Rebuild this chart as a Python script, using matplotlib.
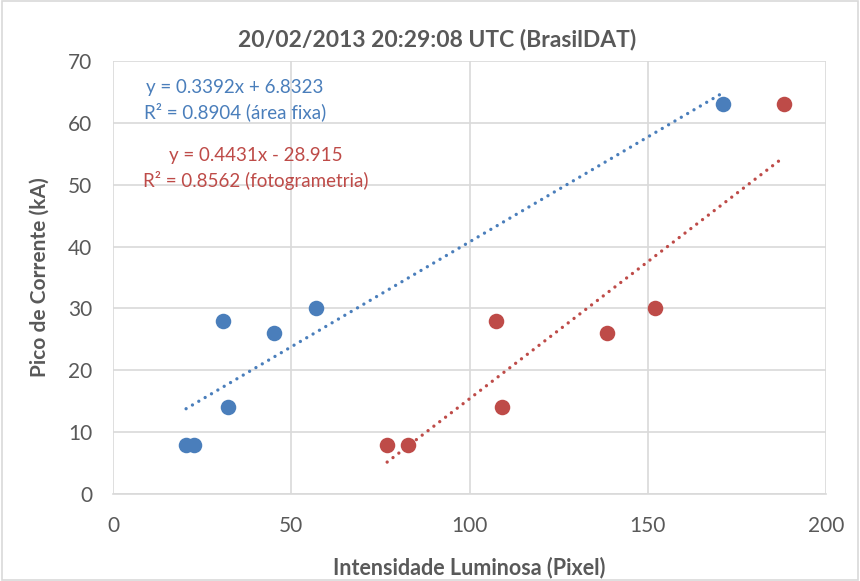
import matplotlib
matplotlib.use("Agg")
import matplotlib.pyplot as plt
import numpy as np
from matplotlib.patches import Rectangle

# Data
area_x = [20.5, 22.7, 30.9, 32.3, 45.2, 57.0, 171.1]
area_y = [8, 8, 28, 14, 26, 30, 63]
foto_x = [76.9, 82.7, 107.4, 109.1, 138.6, 152.0, 188.2]
foto_y = [8, 8, 28, 14, 26, 30, 63]
fit_area = (0.3392, 6.8323)
fit_foto = (0.4431, -28.915)
x_ticks = [0, 50, 100, 150, 200]
y_ticks = [0, 10, 20, 30, 40, 50, 60, 70]

BLUE = "#4A7EBB"
RED = "#BE4B48"
GRAY = "#595959"

plt.rcParams['font.family'] = ['Lato', 'DejaVu Sans']

fig = plt.figure(figsize=(8.6, 5.81), dpi=100)
ax = fig.add_axes([113/860, 1-494/581, (826-113)/860, (494-61)/581])

# Trend lines
for xs, (m, b), c in [(area_x, fit_area, BLUE), (foto_x, fit_foto, RED)]:
    xl = np.array([min(xs), max(xs)])
    ax.plot(xl, m*xl + b, color=c, lw=2.4, linestyle=(0, (0.01, 2.2)),
            dash_capstyle='round', solid_capstyle='round', zorder=2)

ax.scatter(area_x, area_y, s=125, color=BLUE, zorder=3, linewidths=0)
ax.scatter(foto_x, foto_y, s=125, color=RED, zorder=3, linewidths=0)

ax.set_xlim(0, 200)
ax.set_ylim(0, 70)
ax.set_xticks(x_ticks)
ax.set_yticks(y_ticks)
ax.grid(True, color="#D9D9D9", lw=1.2, zorder=0)
ax.set_axisbelow(True)
for s in ['top', 'right', 'left']:
    ax.spines[s].set_visible(False)
ax.spines['bottom'].set_color("#D9D9D9")
ax.spines['bottom'].set_linewidth(1.2)
ax.tick_params(length=0, labelsize=15, labelcolor=GRAY)
ax.tick_params(axis='y', pad=15)
ax.tick_params(axis='x', pad=16)

ax.set_xlabel("Intensidade Luminosa (Pixel)", fontsize=15.5, fontweight='bold', color=GRAY, labelpad=15)
ax.set_ylabel("Pico de Corrente (kA)", fontsize=15, fontweight='bold', color=GRAY, labelpad=13)

fig.text(437/860, 1-40/581, "20/02/2013 20:29:08 UTC (BrasilDAT)", fontsize=16.5,
         fontweight='bold', color=GRAY, ha='center', va='center')

fig.text(235/860, 1-87/581, "y = 0.3392x + 6.8323", fontsize=13.5, color=BLUE, ha='center', va='center')
fig.text(235/860, 1-112/581, "R² = 0.8904 (área fixa)", fontsize=13.5, color=BLUE, ha='center', va='center')
fig.text(256/860, 1-155/581, "y = 0.4431x - 28.915", fontsize=13.5, color=RED, ha='center', va='center')
fig.text(256/860, 1-181/581, "R² = 0.8562 (fotogrametria)", fontsize=13.5, color=RED, ha='center', va='center')

fig.patches.append(Rectangle((0.002, 0.002), 0.996, 0.996, transform=fig.transFigure,
                             fill=False, edgecolor="#D9D9D9", lw=1.2))

fig.savefig("out.png", dpi=100)
